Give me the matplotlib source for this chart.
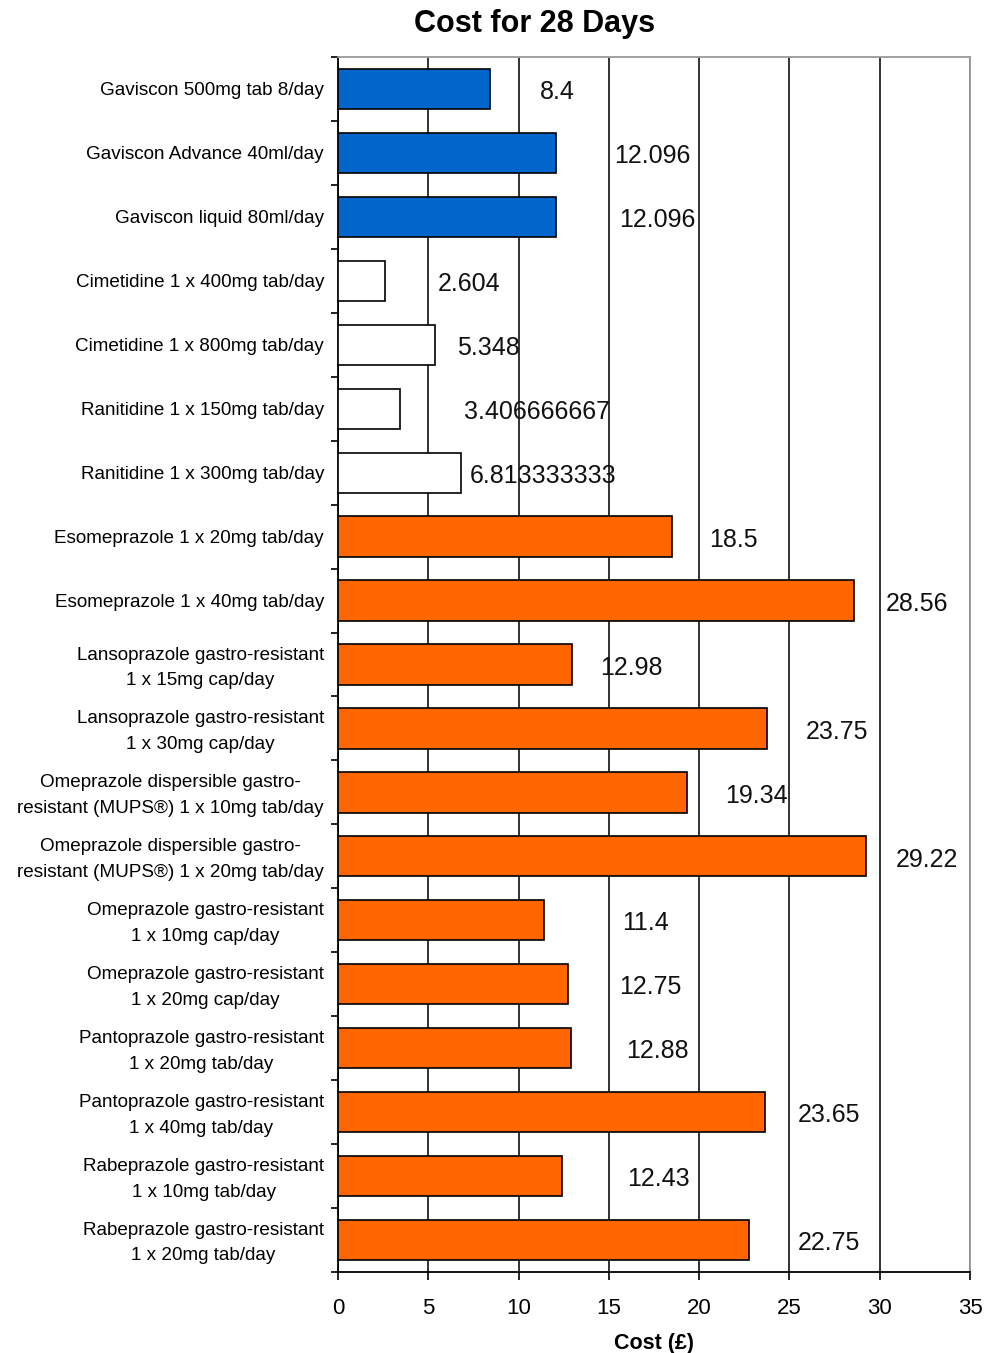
import matplotlib
matplotlib.use("Agg")
import matplotlib.pyplot as plt
import numpy as np
from matplotlib.transforms import ScaledTranslation

categories = [
    "Gaviscon 500mg tab 8/day",
    "Gaviscon Advance 40ml/day",
    "Gaviscon liquid 80ml/day",
    "Cimetidine 1 x 400mg tab/day",
    "Cimetidine 1 x 800mg tab/day",
    "Ranitidine 1 x 150mg tab/day",
    "Ranitidine 1 x 300mg tab/day",
    "Esomeprazole 1 x 20mg tab/day",
    "Esomeprazole 1 x 40mg tab/day",
    "Lansoprazole gastro-resistant\n1 x 15mg cap/day",
    "Lansoprazole gastro-resistant\n1 x 30mg cap/day",
    "Omeprazole dispersible gastro-\nresistant (MUPS®) 1 x 10mg tab/day",
    "Omeprazole dispersible gastro-\nresistant (MUPS®) 1 x 20mg tab/day",
    "Omeprazole gastro-resistant\n1 x 10mg cap/day",
    "Omeprazole gastro-resistant\n1 x 20mg cap/day",
    "Pantoprazole gastro-resistant\n1 x 20mg tab/day",
    "Pantoprazole gastro-resistant\n1 x 40mg tab/day",
    "Rabeprazole gastro-resistant\n1 x 10mg tab/day",
    "Rabeprazole gastro-resistant\n1 x 20mg tab/day",
]
values = [8.4, 12.096, 12.096, 2.604, 5.348, 3.406666667, 6.813333333,
          18.5, 28.56, 12.98, 23.75, 19.34, 29.22, 11.4, 12.75, 12.88,
          23.65, 12.43, 22.75]
value_labels = ["8.4", "12.096", "12.096", "2.604", "5.348", "3.406666667",
                "6.813333333", "18.5", "28.56", "12.98", "23.75", "19.34",
                "29.22", "11.4", "12.75", "12.88", "23.65", "12.43", "22.75"]
groups = ["alginate"] * 3 + ["h2"] * 4 + ["ppi"] * 12
group_colors = {"alginate": "#0066CC", "h2": "#FFFFFF", "ppi": "#FF6600"}
# horizontal offset of each value label from its bar end (data units)
label_offsets = [2.8, 3.2, 3.45, 2.9, 1.25, 3.55, 0.5, 2.05, 1.75, 1.55,
                 2.15, 2.1, 1.65, 4.35, 2.8, 3.05, 1.8, 3.6, 2.7]
xticks = [0, 5, 10, 15, 20, 25, 30, 35]

plt.rcParams['font.family'] = ['Liberation Sans', 'DejaVu Sans']

fig = plt.figure(figsize=(9.84, 13.53), dpi=100)
ax = fig.add_axes([338/984, 1 - 1272/1353, 632/984, (1272 - 57)/1353])

n = len(categories)
y = np.arange(n)
colors = [group_colors[g] for g in groups]
ax.barh(y, values, height=0.63, color=colors, edgecolor="black",
        linewidth=1.2, zorder=3)

for yi, v, lab, off in zip(y, values, value_labels, label_offsets):
    ax.text(v + off, yi + 0.05, lab, fontsize=18, va="center", ha="left",
            color="#111111", zorder=2)

ax.set_xlim(0, 35)
ax.set_ylim(n - 0.5, -0.5)
ax.set_xticks(xticks)
ax.set_xticklabels([str(t) for t in xticks], fontsize=16)
ax.xaxis.grid(True, color="#222222", linewidth=1.3, zorder=1)
ax.set_axisbelow(True)

ax.set_yticks(y)
ax.set_yticklabels(categories, fontsize=13.6, linespacing=1.65)
ax.set_yticks(np.arange(-0.5, n, 1.0), minor=True)
ax.tick_params(axis="y", which="major", length=0, pad=10)
ax.tick_params(axis="y", which="minor", length=5, width=1.2, direction="out")
shift_up = ScaledTranslation(0, 3/100, fig.dpi_scale_trans)
for lbl, cat in zip(ax.get_yticklabels(), categories):
    lbl.set_multialignment("center")
    if "\n" in cat:
        lbl.set_transform(lbl.get_transform() + shift_up)
ax.tick_params(axis="x", which="major", length=6, width=1.2, direction="out",
               pad=13)

for side in ["top", "right"]:
    ax.spines[side].set_color("#999999")
    ax.spines[side].set_linewidth(1.3)
for side in ["left", "bottom"]:
    ax.spines[side].set_color("black")
    ax.spines[side].set_linewidth(1.3)

ax.set_xlabel("Cost (£)", fontsize=15.5, fontweight="bold", labelpad=10)
fig.text(535/984, 1 - 24/1353, "Cost for 28 Days", fontsize=22,
         fontweight="bold", ha="center", va="center")

fig.savefig("out.png", dpi=100, facecolor="white")
